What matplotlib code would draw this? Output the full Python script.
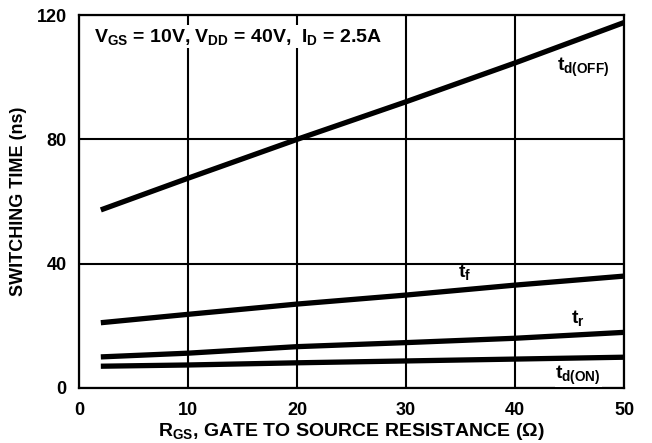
"""Switching time vs gate to source resistance."""

import matplotlib
matplotlib.use("Agg")
import matplotlib.pyplot as plt

plt.rcParams["font.family"] = ["Liberation Sans", "DejaVu Sans"]
plt.rcParams["font.weight"] = "bold"
plt.rcParams["axes.labelweight"] = "bold"
plt.rcParams["mathtext.fontset"] = "custom"
plt.rcParams["mathtext.rm"] = "Liberation Sans:bold"
plt.rcParams["mathtext.it"] = "Liberation Sans:bold"
plt.rcParams["mathtext.bf"] = "Liberation Sans:bold"

# data
r_gs = [2, 10, 20, 30, 40, 50]
td_off = [57.3, 67.5, 80.0, 92.1, 104.6, 117.6]
t_f = [21.0, 23.7, 27.0, 29.9, 33.1, 36.0]
t_r = [10.0, 11.2, 13.3, 14.6, 16.0, 17.9]
td_on = [7.0, 7.4, 8.1, 8.7, 9.3, 9.9]

x_ticks = [0, 10, 20, 30, 40, 50]
y_ticks = [0, 40, 80, 120]

FS = 13       # tick labels, y label
FS_H = 14     # wider horizontal captions

fig = plt.figure(figsize=(6.52, 4.43), dpi=100)
ax = fig.add_axes([0.1212, 0.1242, 0.8359, 0.8418])

for ys in (td_off, t_f, t_r, td_on):
    ax.plot(r_gs, ys, color="black", linewidth=3.8, solid_capstyle="butt")

ax.set_xlim(0, 50)
ax.set_ylim(0, 120)
ax.set_xticks(x_ticks)
ax.set_yticks(y_ticks)
ax.tick_params(length=0, labelsize=FS)
ax.tick_params(axis="x", pad=10)
ax.tick_params(axis="y", pad=9)
for lbl in ax.get_xticklabels() + ax.get_yticklabels():
    lbl.set_fontweight("bold")
ax.grid(True, color="black", linewidth=1.5)
for sp in ax.spines.values():
    sp.set_linewidth(1.6)

ax.text(1.4, 113, r"$V_{GS}$ = 10V, $V_{DD}$ = 40V,  $I_D$ = 2.5A",
        fontsize=FS_H, fontweight="bold", va="center", ha="left",
        bbox=dict(facecolor="white", edgecolor="none", pad=1))
ax.text(46.3, 103, r"$t_{d(OFF)}$", fontsize=FS_H, ha="center", va="center")
ax.text(35.4, 37.3, r"$t_f$", fontsize=FS_H, ha="center", va="center")
ax.text(45.8, 22.5, r"$t_r$", fontsize=FS_H, ha="center", va="center")
ax.text(45.8, 4.2, r"$t_{d(ON)}$", fontsize=FS_H, ha="center", va="center",
        bbox=dict(facecolor="white", edgecolor="none", pad=0.5))

ax.set_xlabel(r"$R_{GS}$, GATE TO SOURCE RESISTANCE ($\Omega$)",
              fontsize=FS_H, fontweight="bold", labelpad=1.5)
ax.set_ylabel("SWITCHING TIME (ns)", fontsize=FS, fontweight="bold",
              labelpad=7)

fig.savefig("out.png", dpi=100)
